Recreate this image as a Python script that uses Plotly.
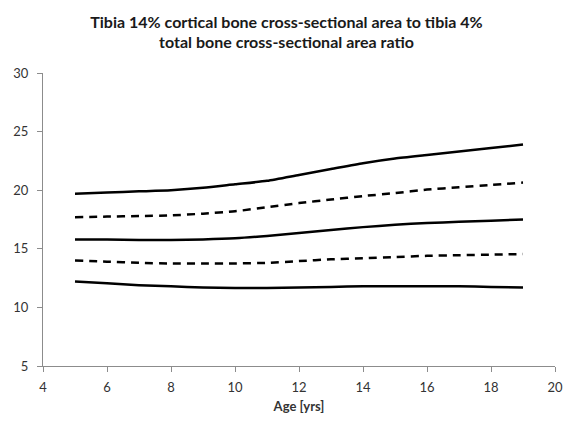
import plotly.graph_objects as go

age = [5, 6, 7, 8, 9, 10, 11, 12, 13, 14, 15, 16, 17, 18, 19]

upper_solid = [19.7, 19.8, 19.9, 20.0, 20.2, 20.5, 20.8, 21.3, 21.8, 22.3, 22.7, 23.0, 23.3, 23.6, 23.9]
upper_dashed = [17.7, 17.75, 17.8, 17.85, 18.0, 18.2, 18.55, 18.9, 19.2, 19.5, 19.75, 20.05, 20.25, 20.45, 20.65]
middle_solid = [15.8, 15.8, 15.75, 15.75, 15.8, 15.9, 16.1, 16.35, 16.6, 16.85, 17.05, 17.2, 17.3, 17.4, 17.5]
lower_dashed = [14.0, 13.9, 13.8, 13.75, 13.75, 13.75, 13.8, 13.95, 14.1, 14.2, 14.3, 14.4, 14.45, 14.5, 14.55]
lower_solid = [12.2, 12.05, 11.9, 11.8, 11.7, 11.65, 11.65, 11.7, 11.75, 11.8, 11.8, 11.8, 11.8, 11.75, 11.7]

x_ticks = [4, 6, 8, 10, 12, 14, 16, 18, 20]
y_ticks = [5, 10, 15, 20, 25, 30]

series = [
    (upper_solid, "solid"),
    (upper_dashed, "8px,6px"),
    (middle_solid, "solid"),
    (lower_dashed, "8px,6px"),
    (lower_solid, "solid"),
]

fig = go.Figure()
for values, dash in series:
    fig.add_trace(
        go.Scatter(
            x=age,
            y=values,
            mode="lines",
            line=dict(color="black", width=2.5, dash=dash, shape="spline", smoothing=0.6),
            showlegend=False,
        )
    )

axis_style = dict(
    showgrid=False,
    zeroline=False,
    showline=True,
    linecolor="#8c8c8c",
    linewidth=1,
    ticks="outside",
    ticklen=5,
    tickcolor="#8c8c8c",
    tickfont=dict(size=13, color="#333333"),
)

fig.update_xaxes(
    range=[4, 20],
    tickvals=x_ticks,
    ticklabelstandoff=4,
    title=dict(text="<b>Age [yrs]</b>", font=dict(size=13, color="#333333"), standoff=8),
    **axis_style,
)
fig.update_yaxes(range=[5, 30], tickvals=y_ticks, ticklabelstandoff=6, **axis_style)

fig.update_layout(
    width=573,
    height=425,
    title=dict(
        text="<b>Tibia 14% cortical bone cross-sectional area to tibia 4%<br>total bone cross-sectional area ratio</b>",
        x=0.5,
        xanchor="center",
        y=0.935,
        yanchor="top",
        font=dict(size=16, color="#1a1a1a"),
    ),
    font=dict(family="Lato, 'Open Sans', sans-serif"),
    margin=dict(l=43, r=10, t=73, b=59),
    plot_bgcolor="white",
    paper_bgcolor="white",
)

# the page body has a default 8px margin; drop it so the figure fills the window
fig.write_html(
    "out.html",
    config={"displayModeBar": False},
    post_script="document.body.style.margin='0';",
)
